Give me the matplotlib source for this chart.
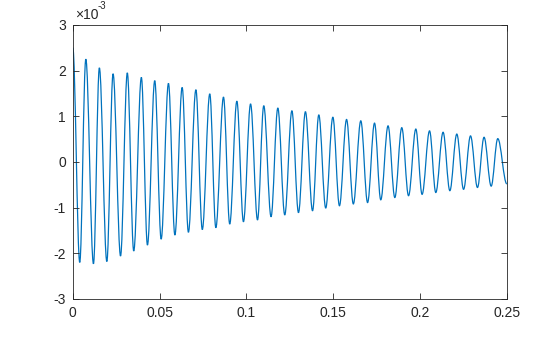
import numpy as np
import matplotlib
matplotlib.use("Agg")
import matplotlib.pyplot as plt
from matplotlib.path import Path
from matplotlib.patches import PathPatch

plt.rcParams['font.family'] = ['Liberation Sans', 'DejaVu Sans']
plt.rcParams['axes.unicode_minus'] = False

# signal extrema (time in s, value in units of 1e-3)
start_t, start_v = 0.0, 2.50
end_t, end_v = 0.25, -0.48

peak_t = [0.0075, 0.0153, 0.0232, 0.0314, 0.0395, 0.0472, 0.0551, 0.0630,
          0.0709, 0.0789, 0.0868, 0.0945, 0.1024, 0.1100, 0.1181, 0.1262,
          0.1340, 0.1417, 0.1498, 0.1577, 0.1659, 0.1738, 0.1816, 0.1895,
          0.1976, 0.2055, 0.2133, 0.2212, 0.2291, 0.2369, 0.2448]
peak_v = [2.25, 2.06, 1.93, 1.95, 1.85, 1.78, 1.72, 1.63, 1.58, 1.49, 1.42,
          1.33, 1.27, 1.23, 1.18, 1.12, 1.10, 1.03, 0.98, 0.93, 0.90, 0.85,
          0.79, 0.75, 0.72, 0.68, 0.65, 0.61, 0.57, 0.54, 0.51]

trough_t = [0.0040, 0.0119, 0.0196, 0.0275, 0.0351, 0.0430, 0.0509, 0.0588,
            0.0666, 0.0746, 0.0824, 0.0904, 0.0983, 0.1064, 0.1142, 0.1221,
            0.1300, 0.1381, 0.1457, 0.1536, 0.1616, 0.1698, 0.1774, 0.1855,
            0.1934, 0.2012, 0.2091, 0.2172, 0.2251, 0.2331, 0.2410]
trough_v = [-2.20, -2.23, -2.18, -2.06, -1.95, -1.82, -1.69, -1.60, -1.54,
            -1.48, -1.44, -1.36, -1.31, -1.27, -1.20, -1.16, -1.11, -1.07,
            -1.01, -0.96, -0.92, -0.89, -0.83, -0.78, -0.74, -0.71, -0.67,
            -0.63, -0.60, -0.56, -0.53]

xticks = [0, 0.05, 0.1, 0.15, 0.2, 0.25]
xticklabels = ['0', '0.05', '0.1', '0.15', '0.2', '0.25']
yticks = [-3, -2, -1, 0, 1, 2, 3]

# merge extrema into one time-ordered trace
t = [start_t]
v = [start_v]
for i in range(len(peak_t)):
    t += [trough_t[i], peak_t[i]]
    v += [trough_v[i], peak_v[i]]
t.append(end_t)
v.append(end_v)

# smooth path: cubic segments with flat tangents at each extremum
verts = [(t[0], v[0])]
codes = [Path.MOVETO]
k = 0.36
for i in range(1, len(t)):
    dt = t[i] - t[i - 1]
    verts += [(t[i - 1] + k * dt, v[i - 1]), (t[i] - k * dt, v[i]), (t[i], v[i])]
    codes += [Path.CURVE4] * 3

axcol = '#262626'
fig = plt.figure(figsize=(5.6, 3.37), dpi=100)
ax = fig.add_axes([0.13, 0.113, 0.775, 0.813])
ax.add_patch(PathPatch(Path(verts, codes), facecolor='none',
                       edgecolor='#0072BD', linewidth=0.9))

ax.set_xlim(0, 0.25)
ax.set_ylim(-3, 3)
ax.set_xticks(xticks)
ax.set_xticklabels(xticklabels)
ax.set_yticks(yticks)
ax.tick_params(direction='in', length=4, width=0.6, colors=axcol,
               labelsize=10, top=True, right=True, pad=5)
for s in ax.spines.values():
    s.set_color(axcol)
    s.set_linewidth(0.6)

# exponent label, drawn like MATLAB's
ax.text(0.005, 1.012, '\u00d710', transform=ax.transAxes,
        fontsize=10, color=axcol, ha='left', va='bottom')
ax.text(0.058, 1.052, '-3', transform=ax.transAxes,
        fontsize=7, color=axcol, ha='left', va='bottom')

fig.savefig('out.png', dpi=100)
